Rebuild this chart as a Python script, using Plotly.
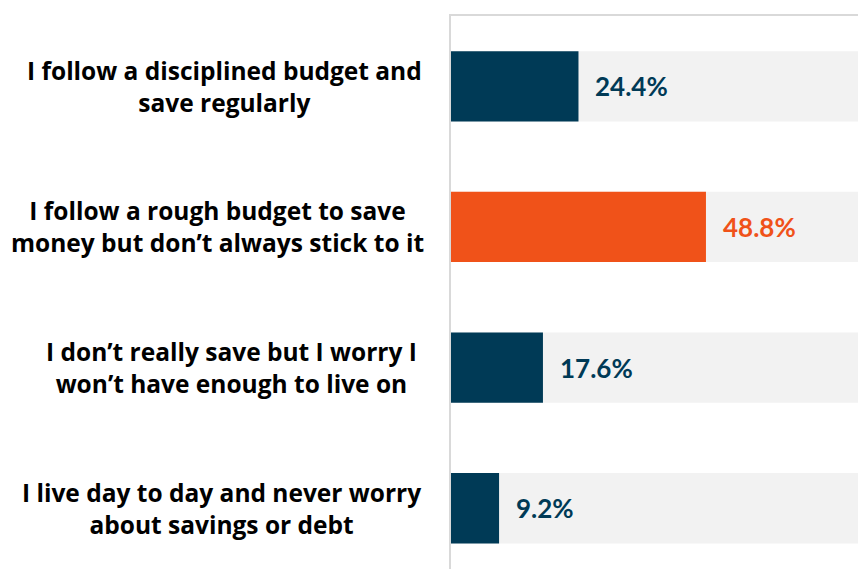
import plotly.graph_objects as go

categories = [
    "I follow a disciplined budget and<br>save regularly",
    "I follow a rough budget to save<br>money but don’t always stick to it",
    "I don’t really save but I worry I<br>won’t have enough to live on",
    "I live day to day and never worry<br>about savings or debt",
]
values = [24.4, 48.8, 17.6, 9.2]
value_labels = ["24.4%", "48.8%", "17.6%", "9.2%"]
bar_colors = ["#003a56", "#f05219", "#003a56", "#003a56"]
background_total = [100, 100, 100, 100]

positions = list(range(len(categories)))

# horizontal centre (px) of each category label block
label_centers_px = [225, 217, 231, 222]
plot_left, plot_w = 451, 407

fig = go.Figure()
fig.add_trace(go.Bar(
    x=background_total, y=positions, orientation="h",
    marker=dict(color="#f2f2f2", line=dict(width=0)),
    hoverinfo="skip", showlegend=False,
))
fig.add_trace(go.Bar(
    x=values, y=positions, orientation="h",
    marker=dict(color=bar_colors, line=dict(width=0)),
    showlegend=False,
))

annotations = []
for i, (v, lab, c) in enumerate(zip(values, value_labels, bar_colors)):
    annotations.append(dict(
        x=v, y=i, xref="x", yref="y", text=f"<b>{lab}</b>",
        showarrow=False, xanchor="left", yanchor="middle", xshift=15,
        font=dict(family="Lato", size=26, color=c),
    ))
for i, cat in enumerate(categories):
    annotations.append(dict(
        x=(label_centers_px[i] - plot_left) / plot_w, y=i, xref="paper", yref="y",
        text=f"<b>{cat}</b>",
        showarrow=False, xanchor="center", yanchor="middle", align="center",
        font=dict(family="Open Sans", size=24.5, color="#000000"),
    ))

fig.update_layout(
    width=858, height=569,
    margin=dict(l=plot_left, r=0, t=16, b=0),
    paper_bgcolor="white", plot_bgcolor="white",
    barmode="overlay", bargap=0.5,
    annotations=annotations,
    xaxis=dict(range=[0, 77.9], showgrid=False, zeroline=False,
               showticklabels=False, ticks="", side="top",
               showline=True, linecolor="#d9d9d9", linewidth=2),
    yaxis=dict(range=[3.432, -0.5], showgrid=False, zeroline=False,
               showticklabels=False, ticks="",
               showline=True, linecolor="#d9d9d9", linewidth=2),
)

fig.write_html("out.html")
